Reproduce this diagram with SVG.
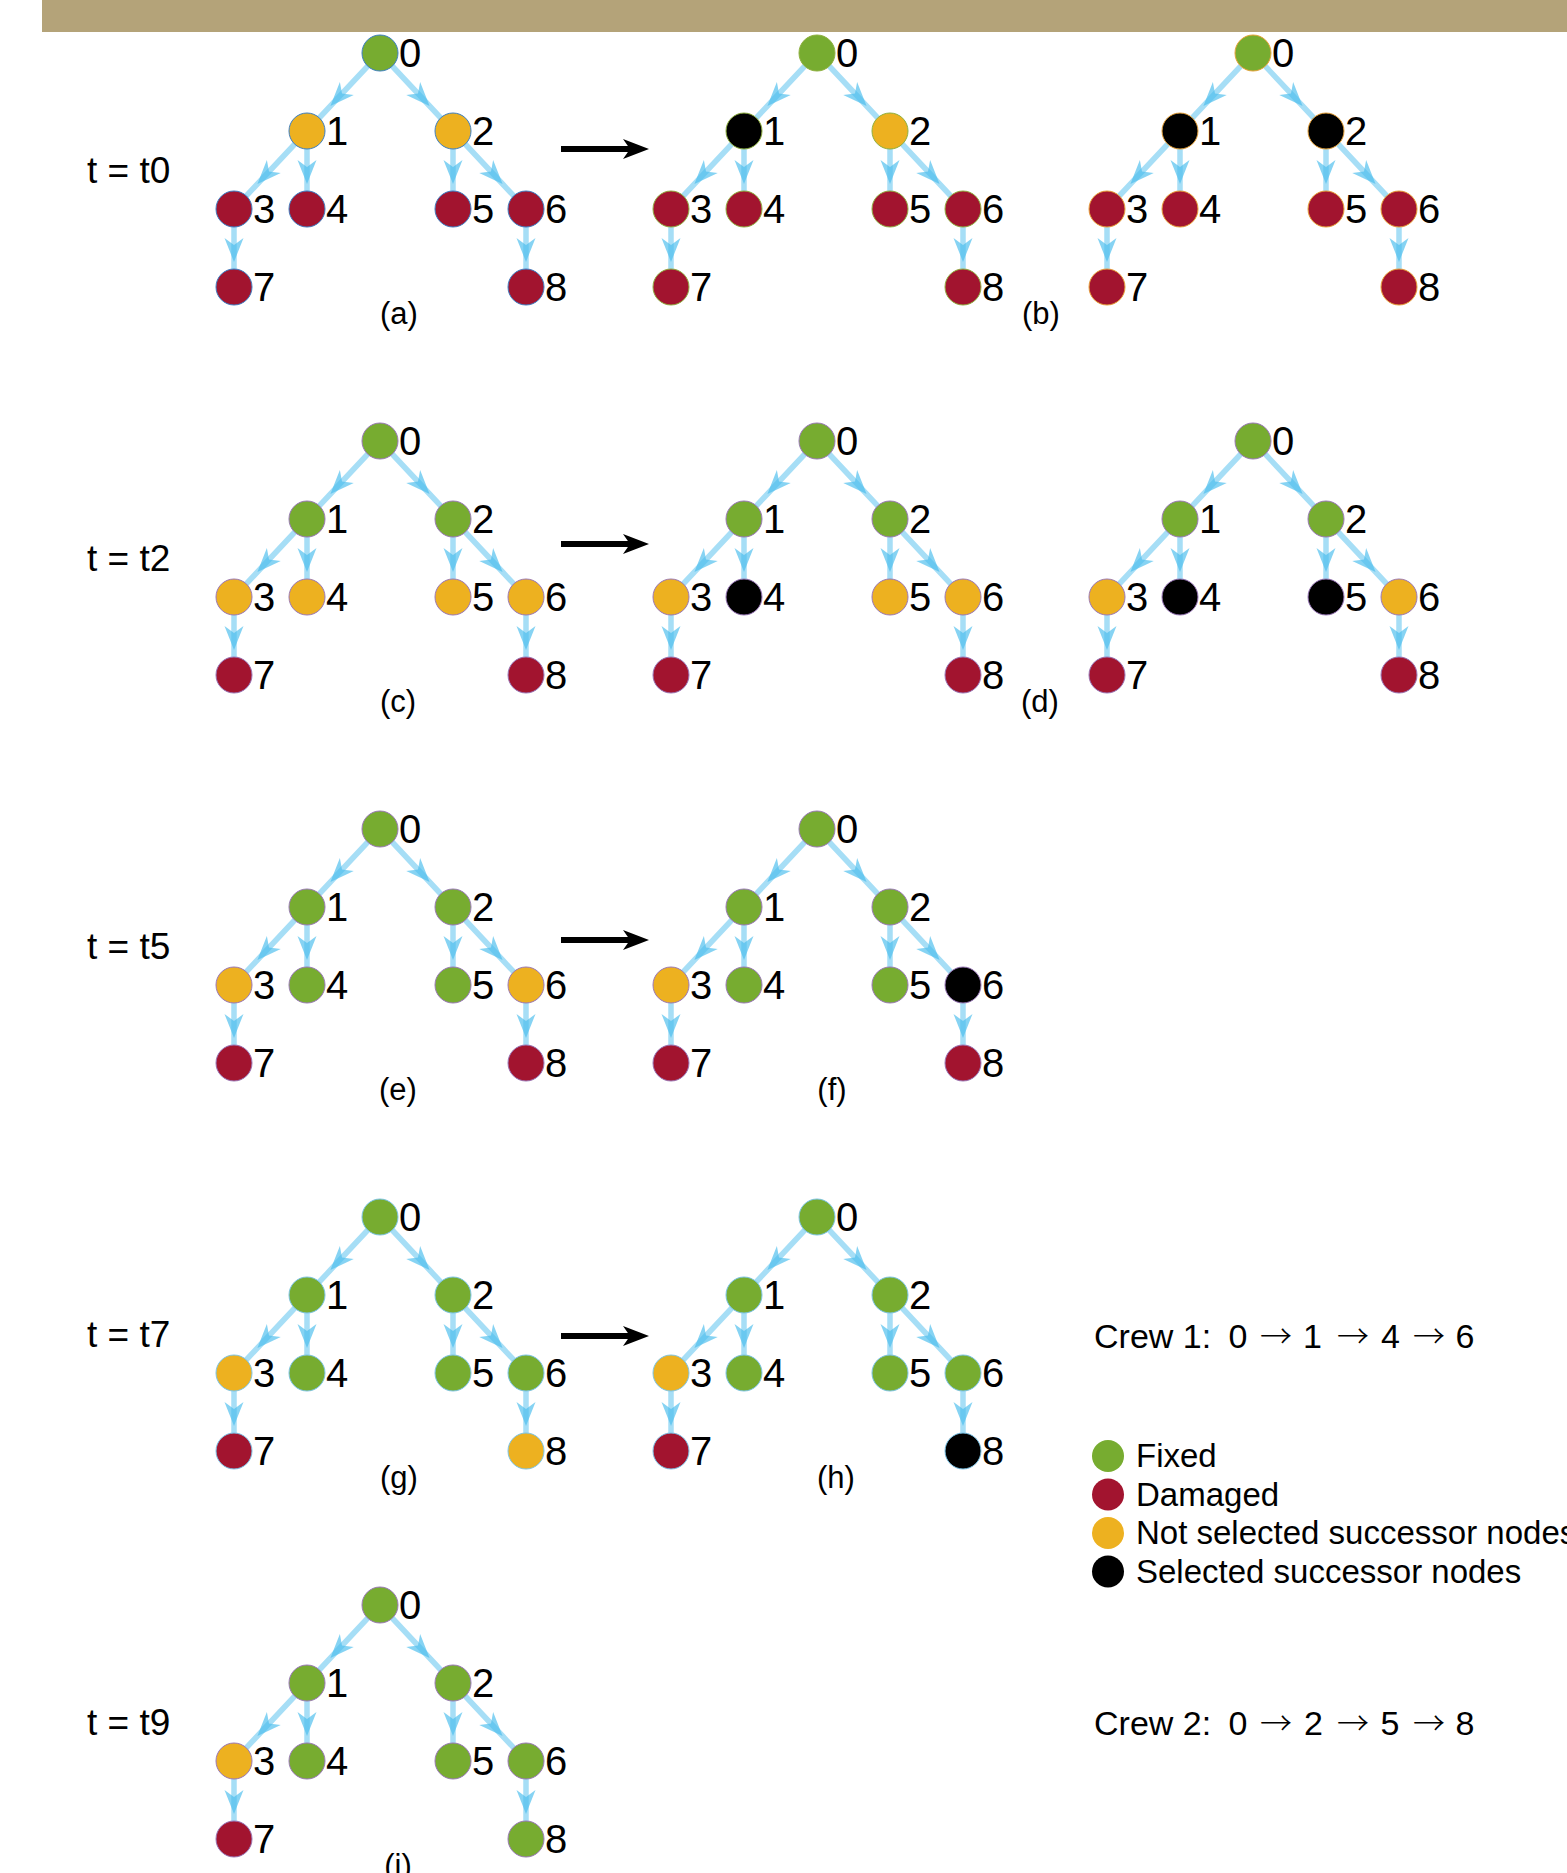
<svg xmlns="http://www.w3.org/2000/svg" width="1567" height="1873" viewBox="0 0 1567 1873">
<defs>
<marker id="ah" viewBox="-26 -11 28 22" refX="0" refY="0" markerWidth="28" markerHeight="22" markerUnits="userSpaceOnUse" orient="auto">
<path d="M0,0 L-24,-9.5 L-17,0 L-24,9.5 Z" fill="#4DBEEE" fill-opacity="0.68"/>
</marker>
</defs>
<style>
text{font-family:"Liberation Sans",Arial,Helvetica,sans-serif;fill:#000}
.lbl{font-size:40px}
.row{font-size:37px}
.cap{font-size:31px;text-anchor:middle}
.crew{font-size:34px}
.arr{font-family:"Noto Sans CJK SC","DejaVu Sans",sans-serif;font-size:32px;font-weight:300}
.leg{font-size:33px}
.e{fill:none;stroke:#4DBEEE;stroke-opacity:0.5;stroke-width:5.5;marker-mid:url(#ah)}
circle{stroke-width:1}
.G{fill:#77AC30}
.R{fill:#A2142F}
.Y{fill:#EDB120}
.K{fill:#000000}
.sa circle{stroke:#3d7fc4}
.sb circle{stroke:#8fb040}
.sc circle{stroke:#e8a33a}
.sd circle{stroke:#9a78b8}
.se circle{stroke:#7cc4e8}
.big{stroke:#000;stroke-width:6;fill:none}
</style>
<rect x="42" y="0" width="1525" height="32" fill="#B4A379"/>

<g id="connectors">
<g id="edges-a" transform="translate(380,53)">
<polyline class="e" points="0,0 -49.6,53 -73,78"/><polyline class="e" points="0,0 49.6,53 73,78"/><polyline class="e" points="-73,78 -122.6,131 -146,156"/><polyline class="e" points="-73,78 -73,131 -73,156"/><polyline class="e" points="73,78 73,131 73,156"/><polyline class="e" points="73,78 122.6,131 146,156"/><polyline class="e" points="-146,156 -146,209 -146,234"/><polyline class="e" points="146,156 146,209 146,234"/>
</g>
<g id="edges-b" transform="translate(817,53)">
<polyline class="e" points="0,0 -49.6,53 -73,78"/><polyline class="e" points="0,0 49.6,53 73,78"/><polyline class="e" points="-73,78 -122.6,131 -146,156"/><polyline class="e" points="-73,78 -73,131 -73,156"/><polyline class="e" points="73,78 73,131 73,156"/><polyline class="e" points="73,78 122.6,131 146,156"/><polyline class="e" points="-146,156 -146,209 -146,234"/><polyline class="e" points="146,156 146,209 146,234"/>
</g>
<g id="edges-b2" transform="translate(1253,53)">
<polyline class="e" points="0,0 -49.6,53 -73,78"/><polyline class="e" points="0,0 49.6,53 73,78"/><polyline class="e" points="-73,78 -122.6,131 -146,156"/><polyline class="e" points="-73,78 -73,131 -73,156"/><polyline class="e" points="73,78 73,131 73,156"/><polyline class="e" points="73,78 122.6,131 146,156"/><polyline class="e" points="-146,156 -146,209 -146,234"/><polyline class="e" points="146,156 146,209 146,234"/>
</g>
<g id="edges-c" transform="translate(380,441)">
<polyline class="e" points="0,0 -49.6,53 -73,78"/><polyline class="e" points="0,0 49.6,53 73,78"/><polyline class="e" points="-73,78 -122.6,131 -146,156"/><polyline class="e" points="-73,78 -73,131 -73,156"/><polyline class="e" points="73,78 73,131 73,156"/><polyline class="e" points="73,78 122.6,131 146,156"/><polyline class="e" points="-146,156 -146,209 -146,234"/><polyline class="e" points="146,156 146,209 146,234"/>
</g>
<g id="edges-d" transform="translate(817,441)">
<polyline class="e" points="0,0 -49.6,53 -73,78"/><polyline class="e" points="0,0 49.6,53 73,78"/><polyline class="e" points="-73,78 -122.6,131 -146,156"/><polyline class="e" points="-73,78 -73,131 -73,156"/><polyline class="e" points="73,78 73,131 73,156"/><polyline class="e" points="73,78 122.6,131 146,156"/><polyline class="e" points="-146,156 -146,209 -146,234"/><polyline class="e" points="146,156 146,209 146,234"/>
</g>
<g id="edges-d2" transform="translate(1253,441)">
<polyline class="e" points="0,0 -49.6,53 -73,78"/><polyline class="e" points="0,0 49.6,53 73,78"/><polyline class="e" points="-73,78 -122.6,131 -146,156"/><polyline class="e" points="-73,78 -73,131 -73,156"/><polyline class="e" points="73,78 73,131 73,156"/><polyline class="e" points="73,78 122.6,131 146,156"/><polyline class="e" points="-146,156 -146,209 -146,234"/><polyline class="e" points="146,156 146,209 146,234"/>
</g>
<g id="edges-e" transform="translate(380,829)">
<polyline class="e" points="0,0 -49.6,53 -73,78"/><polyline class="e" points="0,0 49.6,53 73,78"/><polyline class="e" points="-73,78 -122.6,131 -146,156"/><polyline class="e" points="-73,78 -73,131 -73,156"/><polyline class="e" points="73,78 73,131 73,156"/><polyline class="e" points="73,78 122.6,131 146,156"/><polyline class="e" points="-146,156 -146,209 -146,234"/><polyline class="e" points="146,156 146,209 146,234"/>
</g>
<g id="edges-f" transform="translate(817,829)">
<polyline class="e" points="0,0 -49.6,53 -73,78"/><polyline class="e" points="0,0 49.6,53 73,78"/><polyline class="e" points="-73,78 -122.6,131 -146,156"/><polyline class="e" points="-73,78 -73,131 -73,156"/><polyline class="e" points="73,78 73,131 73,156"/><polyline class="e" points="73,78 122.6,131 146,156"/><polyline class="e" points="-146,156 -146,209 -146,234"/><polyline class="e" points="146,156 146,209 146,234"/>
</g>
<g id="edges-g" transform="translate(380,1217)">
<polyline class="e" points="0,0 -49.6,53 -73,78"/><polyline class="e" points="0,0 49.6,53 73,78"/><polyline class="e" points="-73,78 -122.6,131 -146,156"/><polyline class="e" points="-73,78 -73,131 -73,156"/><polyline class="e" points="73,78 73,131 73,156"/><polyline class="e" points="73,78 122.6,131 146,156"/><polyline class="e" points="-146,156 -146,209 -146,234"/><polyline class="e" points="146,156 146,209 146,234"/>
</g>
<g id="edges-h" transform="translate(817,1217)">
<polyline class="e" points="0,0 -49.6,53 -73,78"/><polyline class="e" points="0,0 49.6,53 73,78"/><polyline class="e" points="-73,78 -122.6,131 -146,156"/><polyline class="e" points="-73,78 -73,131 -73,156"/><polyline class="e" points="73,78 73,131 73,156"/><polyline class="e" points="73,78 122.6,131 146,156"/><polyline class="e" points="-146,156 -146,209 -146,234"/><polyline class="e" points="146,156 146,209 146,234"/>
</g>
<g id="edges-i" transform="translate(380,1605)">
<polyline class="e" points="0,0 -49.6,53 -73,78"/><polyline class="e" points="0,0 49.6,53 73,78"/><polyline class="e" points="-73,78 -122.6,131 -146,156"/><polyline class="e" points="-73,78 -73,131 -73,156"/><polyline class="e" points="73,78 73,131 73,156"/><polyline class="e" points="73,78 122.6,131 146,156"/><polyline class="e" points="-146,156 -146,209 -146,234"/><polyline class="e" points="146,156 146,209 146,234"/>
</g>
<g id="step-arrows">
<line class="big" x1="561" y1="149" x2="634" y2="149"/><path d="M649,149 L623,139 L630,149 L623,159 Z"/>
<line class="big" x1="561" y1="544" x2="634" y2="544"/><path d="M649,544 L623,534 L630,544 L623,554 Z"/>
<line class="big" x1="561" y1="940" x2="634" y2="940"/><path d="M649,940 L623,930 L630,940 L623,950 Z"/>
<line class="big" x1="561" y1="1336" x2="634" y2="1336"/><path d="M649,1336 L623,1326 L630,1336 L623,1346 Z"/>
</g>
</g>

<!-- Row 1 -->
<g id="tree-a" class="sa" transform="translate(380,53)">
<g id="a-n0"><circle class="G" cx="0" cy="0" r="18"/><text class="lbl" x="19" y="14">0</text></g>
<g id="a-n1"><circle class="Y" cx="-73" cy="78" r="18"/><text class="lbl" x="-54" y="92">1</text></g>
<g id="a-n2"><circle class="Y" cx="73" cy="78" r="18"/><text class="lbl" x="92" y="92">2</text></g>
<g id="a-n3"><circle class="R" cx="-146" cy="156" r="18"/><text class="lbl" x="-127" y="170">3</text></g>
<g id="a-n4"><circle class="R" cx="-73" cy="156" r="18"/><text class="lbl" x="-54" y="170">4</text></g>
<g id="a-n5"><circle class="R" cx="73" cy="156" r="18"/><text class="lbl" x="92" y="170">5</text></g>
<g id="a-n6"><circle class="R" cx="146" cy="156" r="18"/><text class="lbl" x="165" y="170">6</text></g>
<g id="a-n7"><circle class="R" cx="-146" cy="234" r="18"/><text class="lbl" x="-127" y="248">7</text></g>
<g id="a-n8"><circle class="R" cx="146" cy="234" r="18"/><text class="lbl" x="165" y="248">8</text></g>
</g>
<g id="tree-b" class="sb" transform="translate(817,53)">
<g id="b-n0"><circle class="G" cx="0" cy="0" r="18"/><text class="lbl" x="19" y="14">0</text></g>
<g id="b-n1"><circle class="K" cx="-73" cy="78" r="18"/><text class="lbl" x="-54" y="92">1</text></g>
<g id="b-n2"><circle class="Y" cx="73" cy="78" r="18"/><text class="lbl" x="92" y="92">2</text></g>
<g id="b-n3"><circle class="R" cx="-146" cy="156" r="18"/><text class="lbl" x="-127" y="170">3</text></g>
<g id="b-n4"><circle class="R" cx="-73" cy="156" r="18"/><text class="lbl" x="-54" y="170">4</text></g>
<g id="b-n5"><circle class="R" cx="73" cy="156" r="18"/><text class="lbl" x="92" y="170">5</text></g>
<g id="b-n6"><circle class="R" cx="146" cy="156" r="18"/><text class="lbl" x="165" y="170">6</text></g>
<g id="b-n7"><circle class="R" cx="-146" cy="234" r="18"/><text class="lbl" x="-127" y="248">7</text></g>
<g id="b-n8"><circle class="R" cx="146" cy="234" r="18"/><text class="lbl" x="165" y="248">8</text></g>
</g>
<g id="tree-b2" class="sc" transform="translate(1253,53)">
<g id="b2-n0"><circle class="G" cx="0" cy="0" r="18"/><text class="lbl" x="19" y="14">0</text></g>
<g id="b2-n1"><circle class="K" cx="-73" cy="78" r="18"/><text class="lbl" x="-54" y="92">1</text></g>
<g id="b2-n2"><circle class="K" cx="73" cy="78" r="18"/><text class="lbl" x="92" y="92">2</text></g>
<g id="b2-n3"><circle class="R" cx="-146" cy="156" r="18"/><text class="lbl" x="-127" y="170">3</text></g>
<g id="b2-n4"><circle class="R" cx="-73" cy="156" r="18"/><text class="lbl" x="-54" y="170">4</text></g>
<g id="b2-n5"><circle class="R" cx="73" cy="156" r="18"/><text class="lbl" x="92" y="170">5</text></g>
<g id="b2-n6"><circle class="R" cx="146" cy="156" r="18"/><text class="lbl" x="165" y="170">6</text></g>
<g id="b2-n7"><circle class="R" cx="-146" cy="234" r="18"/><text class="lbl" x="-127" y="248">7</text></g>
<g id="b2-n8"><circle class="R" cx="146" cy="234" r="18"/><text class="lbl" x="165" y="248">8</text></g>
</g>

<!-- Row 2 -->
<g id="tree-c" class="sd" transform="translate(380,441)">
<g id="c-n0"><circle class="G" cx="0" cy="0" r="18"/><text class="lbl" x="19" y="14">0</text></g>
<g id="c-n1"><circle class="G" cx="-73" cy="78" r="18"/><text class="lbl" x="-54" y="92">1</text></g>
<g id="c-n2"><circle class="G" cx="73" cy="78" r="18"/><text class="lbl" x="92" y="92">2</text></g>
<g id="c-n3"><circle class="Y" cx="-146" cy="156" r="18"/><text class="lbl" x="-127" y="170">3</text></g>
<g id="c-n4"><circle class="Y" cx="-73" cy="156" r="18"/><text class="lbl" x="-54" y="170">4</text></g>
<g id="c-n5"><circle class="Y" cx="73" cy="156" r="18"/><text class="lbl" x="92" y="170">5</text></g>
<g id="c-n6"><circle class="Y" cx="146" cy="156" r="18"/><text class="lbl" x="165" y="170">6</text></g>
<g id="c-n7"><circle class="R" cx="-146" cy="234" r="18"/><text class="lbl" x="-127" y="248">7</text></g>
<g id="c-n8"><circle class="R" cx="146" cy="234" r="18"/><text class="lbl" x="165" y="248">8</text></g>
</g>
<g id="tree-d" class="sd" transform="translate(817,441)">
<g id="d-n0"><circle class="G" cx="0" cy="0" r="18"/><text class="lbl" x="19" y="14">0</text></g>
<g id="d-n1"><circle class="G" cx="-73" cy="78" r="18"/><text class="lbl" x="-54" y="92">1</text></g>
<g id="d-n2"><circle class="G" cx="73" cy="78" r="18"/><text class="lbl" x="92" y="92">2</text></g>
<g id="d-n3"><circle class="Y" cx="-146" cy="156" r="18"/><text class="lbl" x="-127" y="170">3</text></g>
<g id="d-n4"><circle class="K" cx="-73" cy="156" r="18"/><text class="lbl" x="-54" y="170">4</text></g>
<g id="d-n5"><circle class="Y" cx="73" cy="156" r="18"/><text class="lbl" x="92" y="170">5</text></g>
<g id="d-n6"><circle class="Y" cx="146" cy="156" r="18"/><text class="lbl" x="165" y="170">6</text></g>
<g id="d-n7"><circle class="R" cx="-146" cy="234" r="18"/><text class="lbl" x="-127" y="248">7</text></g>
<g id="d-n8"><circle class="R" cx="146" cy="234" r="18"/><text class="lbl" x="165" y="248">8</text></g>
</g>
<g id="tree-d2" class="sd" transform="translate(1253,441)">
<g id="d2-n0"><circle class="G" cx="0" cy="0" r="18"/><text class="lbl" x="19" y="14">0</text></g>
<g id="d2-n1"><circle class="G" cx="-73" cy="78" r="18"/><text class="lbl" x="-54" y="92">1</text></g>
<g id="d2-n2"><circle class="G" cx="73" cy="78" r="18"/><text class="lbl" x="92" y="92">2</text></g>
<g id="d2-n3"><circle class="Y" cx="-146" cy="156" r="18"/><text class="lbl" x="-127" y="170">3</text></g>
<g id="d2-n4"><circle class="K" cx="-73" cy="156" r="18"/><text class="lbl" x="-54" y="170">4</text></g>
<g id="d2-n5"><circle class="K" cx="73" cy="156" r="18"/><text class="lbl" x="92" y="170">5</text></g>
<g id="d2-n6"><circle class="Y" cx="146" cy="156" r="18"/><text class="lbl" x="165" y="170">6</text></g>
<g id="d2-n7"><circle class="R" cx="-146" cy="234" r="18"/><text class="lbl" x="-127" y="248">7</text></g>
<g id="d2-n8"><circle class="R" cx="146" cy="234" r="18"/><text class="lbl" x="165" y="248">8</text></g>
</g>

<!-- Row 3 -->
<g id="tree-e" class="sd" transform="translate(380,829)">
<g id="e-n0"><circle class="G" cx="0" cy="0" r="18"/><text class="lbl" x="19" y="14">0</text></g>
<g id="e-n1"><circle class="G" cx="-73" cy="78" r="18"/><text class="lbl" x="-54" y="92">1</text></g>
<g id="e-n2"><circle class="G" cx="73" cy="78" r="18"/><text class="lbl" x="92" y="92">2</text></g>
<g id="e-n3"><circle class="Y" cx="-146" cy="156" r="18"/><text class="lbl" x="-127" y="170">3</text></g>
<g id="e-n4"><circle class="G" cx="-73" cy="156" r="18"/><text class="lbl" x="-54" y="170">4</text></g>
<g id="e-n5"><circle class="G" cx="73" cy="156" r="18"/><text class="lbl" x="92" y="170">5</text></g>
<g id="e-n6"><circle class="Y" cx="146" cy="156" r="18"/><text class="lbl" x="165" y="170">6</text></g>
<g id="e-n7"><circle class="R" cx="-146" cy="234" r="18"/><text class="lbl" x="-127" y="248">7</text></g>
<g id="e-n8"><circle class="R" cx="146" cy="234" r="18"/><text class="lbl" x="165" y="248">8</text></g>
</g>
<g id="tree-f" class="sd" transform="translate(817,829)">
<g id="f-n0"><circle class="G" cx="0" cy="0" r="18"/><text class="lbl" x="19" y="14">0</text></g>
<g id="f-n1"><circle class="G" cx="-73" cy="78" r="18"/><text class="lbl" x="-54" y="92">1</text></g>
<g id="f-n2"><circle class="G" cx="73" cy="78" r="18"/><text class="lbl" x="92" y="92">2</text></g>
<g id="f-n3"><circle class="Y" cx="-146" cy="156" r="18"/><text class="lbl" x="-127" y="170">3</text></g>
<g id="f-n4"><circle class="G" cx="-73" cy="156" r="18"/><text class="lbl" x="-54" y="170">4</text></g>
<g id="f-n5"><circle class="G" cx="73" cy="156" r="18"/><text class="lbl" x="92" y="170">5</text></g>
<g id="f-n6"><circle class="K" cx="146" cy="156" r="18"/><text class="lbl" x="165" y="170">6</text></g>
<g id="f-n7"><circle class="R" cx="-146" cy="234" r="18"/><text class="lbl" x="-127" y="248">7</text></g>
<g id="f-n8"><circle class="R" cx="146" cy="234" r="18"/><text class="lbl" x="165" y="248">8</text></g>
</g>

<!-- Row 4 -->
<g id="tree-g" class="se" transform="translate(380,1217)">
<g id="g-n0"><circle class="G" cx="0" cy="0" r="18"/><text class="lbl" x="19" y="14">0</text></g>
<g id="g-n1"><circle class="G" cx="-73" cy="78" r="18"/><text class="lbl" x="-54" y="92">1</text></g>
<g id="g-n2"><circle class="G" cx="73" cy="78" r="18"/><text class="lbl" x="92" y="92">2</text></g>
<g id="g-n3"><circle class="Y" cx="-146" cy="156" r="18"/><text class="lbl" x="-127" y="170">3</text></g>
<g id="g-n4"><circle class="G" cx="-73" cy="156" r="18"/><text class="lbl" x="-54" y="170">4</text></g>
<g id="g-n5"><circle class="G" cx="73" cy="156" r="18"/><text class="lbl" x="92" y="170">5</text></g>
<g id="g-n6"><circle class="G" cx="146" cy="156" r="18"/><text class="lbl" x="165" y="170">6</text></g>
<g id="g-n7"><circle class="R" cx="-146" cy="234" r="18"/><text class="lbl" x="-127" y="248">7</text></g>
<g id="g-n8"><circle class="Y" cx="146" cy="234" r="18"/><text class="lbl" x="165" y="248">8</text></g>
</g>
<g id="tree-h" class="se" transform="translate(817,1217)">
<g id="h-n0"><circle class="G" cx="0" cy="0" r="18"/><text class="lbl" x="19" y="14">0</text></g>
<g id="h-n1"><circle class="G" cx="-73" cy="78" r="18"/><text class="lbl" x="-54" y="92">1</text></g>
<g id="h-n2"><circle class="G" cx="73" cy="78" r="18"/><text class="lbl" x="92" y="92">2</text></g>
<g id="h-n3"><circle class="Y" cx="-146" cy="156" r="18"/><text class="lbl" x="-127" y="170">3</text></g>
<g id="h-n4"><circle class="G" cx="-73" cy="156" r="18"/><text class="lbl" x="-54" y="170">4</text></g>
<g id="h-n5"><circle class="G" cx="73" cy="156" r="18"/><text class="lbl" x="92" y="170">5</text></g>
<g id="h-n6"><circle class="G" cx="146" cy="156" r="18"/><text class="lbl" x="165" y="170">6</text></g>
<g id="h-n7"><circle class="R" cx="-146" cy="234" r="18"/><text class="lbl" x="-127" y="248">7</text></g>
<g id="h-n8"><circle class="K" cx="146" cy="234" r="18"/><text class="lbl" x="165" y="248">8</text></g>
</g>

<!-- Row 5 -->
<g id="tree-i" class="sd" transform="translate(380,1605)">
<g id="i-n0"><circle class="G" cx="0" cy="0" r="18"/><text class="lbl" x="19" y="14">0</text></g>
<g id="i-n1"><circle class="G" cx="-73" cy="78" r="18"/><text class="lbl" x="-54" y="92">1</text></g>
<g id="i-n2"><circle class="G" cx="73" cy="78" r="18"/><text class="lbl" x="92" y="92">2</text></g>
<g id="i-n3"><circle class="Y" cx="-146" cy="156" r="18"/><text class="lbl" x="-127" y="170">3</text></g>
<g id="i-n4"><circle class="G" cx="-73" cy="156" r="18"/><text class="lbl" x="-54" y="170">4</text></g>
<g id="i-n5"><circle class="G" cx="73" cy="156" r="18"/><text class="lbl" x="92" y="170">5</text></g>
<g id="i-n6"><circle class="G" cx="146" cy="156" r="18"/><text class="lbl" x="165" y="170">6</text></g>
<g id="i-n7"><circle class="R" cx="-146" cy="234" r="18"/><text class="lbl" x="-127" y="248">7</text></g>
<g id="i-n8"><circle class="G" cx="146" cy="234" r="18"/><text class="lbl" x="165" y="248">8</text></g>
</g>

<g id="row-labels">
<text class="row" x="87" y="183">t = t0</text>
<text class="row" x="87" y="571">t = t2</text>
<text class="row" x="87" y="959">t = t5</text>
<text class="row" x="87" y="1347">t = t7</text>
<text class="row" x="87" y="1735">t = t9</text>
</g>

<g id="captions">
<text class="cap" x="399" y="324">(a)</text>
<text class="cap" x="1041" y="324">(b)</text>
<text class="cap" x="398" y="712">(c)</text>
<text class="cap" x="1040" y="712">(d)</text>
<text class="cap" x="398" y="1100">(e)</text>
<text class="cap" x="832" y="1100">(f)</text>
<text class="cap" x="399" y="1488">(g)</text>
<text class="cap" x="836" y="1488">(h)</text>
<text class="cap" x="398" y="1876">(i)</text>
</g>

<g id="crew-routes">
<text class="crew" y="1348"><tspan x="1094">Crew 1:</tspan><tspan x="1228.5">0</tspan><tspan class="arr" x="1260">→</tspan><tspan x="1303">1</tspan><tspan class="arr" x="1337">→</tspan><tspan x="1381">4</tspan><tspan class="arr" x="1413">→</tspan><tspan x="1455.5">6</tspan></text>
<text class="crew" y="1735"><tspan x="1094">Crew 2:</tspan><tspan x="1228.5">0</tspan><tspan class="arr" x="1260">→</tspan><tspan x="1304">2</tspan><tspan class="arr" x="1337">→</tspan><tspan x="1380.5">5</tspan><tspan class="arr" x="1413">→</tspan><tspan x="1455.5">8</tspan></text>
</g>

<g id="legend">
<g id="leg-fixed"><circle class="G" cx="1108" cy="1456" r="16" stroke="none"/><text class="leg" x="1136" y="1467">Fixed</text></g>
<g id="leg-damaged"><circle class="R" cx="1108" cy="1494.5" r="16" stroke="none"/><text class="leg" x="1136" y="1505.5">Damaged</text></g>
<g id="leg-notsel"><circle class="Y" cx="1108" cy="1533" r="16" stroke="none"/><text class="leg" x="1136" y="1544">Not selected successor nodes</text></g>
<g id="leg-sel"><circle class="K" cx="1108" cy="1571.5" r="16" stroke="none"/><text class="leg" x="1136" y="1582.5">Selected successor nodes</text></g>
</g>
</svg>
